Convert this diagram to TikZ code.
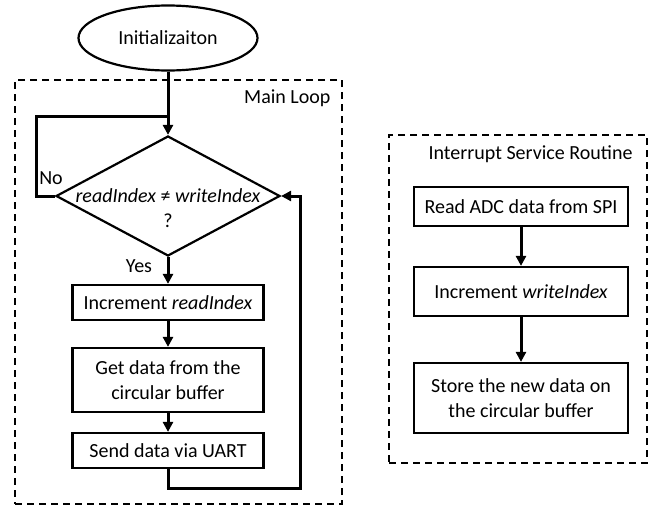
\documentclass[tikz,border=0pt]{standalone}
\usepackage{fontspec}
\setmainfont{Carlito}
\usetikzlibrary{shapes.geometric,arrows.meta}
\begin{document}
\begin{tikzpicture}[x=1pt,y=-1pt,
  every node/.style={font=\fontsize{20}{24.5}\selectfont},
  procbox/.style={draw,line width=2.2pt,minimum width=191pt,align=center,inner sep=0pt},
  conn/.style={line width=3pt},
  arr/.style={conn,-{Triangle[length=10pt,width=10pt]}},
  group/.style={draw,line width=1.4pt,dash pattern=on 7pt off 5pt}]
\useasboundingbox (0,0) rectangle (656,506);
% groups
\node[group,minimum width=327pt,minimum height=424pt,inner sep=0pt] (mainbox) at (178.5,292) {};
\node[group,minimum width=258pt,minimum height=328pt,inner sep=0pt] (isrbox) at (518,299) {};
\node[anchor=east] (mainlbl) at (334,98) {Main Loop};
\node[anchor=east] (isrlbl) at (636,154) {Interrupt Service Routine};
% main flow
\node[draw,ellipse,line width=2.2pt,minimum width=179pt,minimum height=65pt,inner sep=0pt] (init) at (168,38) {Initializaiton};
\node[draw,diamond,line width=2.2pt,minimum width=224pt,minimum height=120pt,inner sep=0pt] (dec) at (168,196) {};
\node[align=center] (dectxt) at (168,208) {\textit{readIndex} ≠ \textit{writeIndex}\\?};
\node[procbox,minimum height=35pt] (b1) at (168,302.5) {Increment \textit{readIndex}};
\node[procbox,minimum height=64pt] (b2) at (168,380) {Get data from the\\circular buffer};
\node[procbox,minimum height=35pt] (b3) at (168,450.5) {Send data via UART};
\node (no) at (51,178) {No};
\node (yes) at (139,266) {Yes};
\coordinate (j) at (168,116);
\coordinate (lt) at (36,116);
\coordinate (lb) at (36,196);
\coordinate (rb) at (300,488);
\coordinate (rt) at (300,196);
\coordinate (bb) at (168,488);
\draw[arr] (init.south) -- (dec.north);
\draw[conn] (dec.west) -- (lb) -- (lt) -- (j);
\draw[arr] (dec.south) -- (b1.north);
\draw[arr] (b1.south) -- (b2.north);
\draw[arr] (b2.south) -- (b3.north);
\draw[arr] (b3.south) -- (bb) -- (rb) -- (rt) -- (dec.east);
% ISR
\node[procbox,minimum width=214pt,minimum height=39pt] (ia) at (521,206.5) {Read ADC data from SPI};
\node[procbox,minimum width=214pt,minimum height=49pt] (ib) at (521,291.5) {Increment \textit{writeIndex}};
\node[procbox,minimum width=214pt,minimum height=70pt] (ic) at (521,398) {Store the new data on\\the circular buffer};
\draw[arr] (ia.south) -- (ib.north);
\draw[arr] (ib.south) -- (ic.north);
\end{tikzpicture}
\end{document}
